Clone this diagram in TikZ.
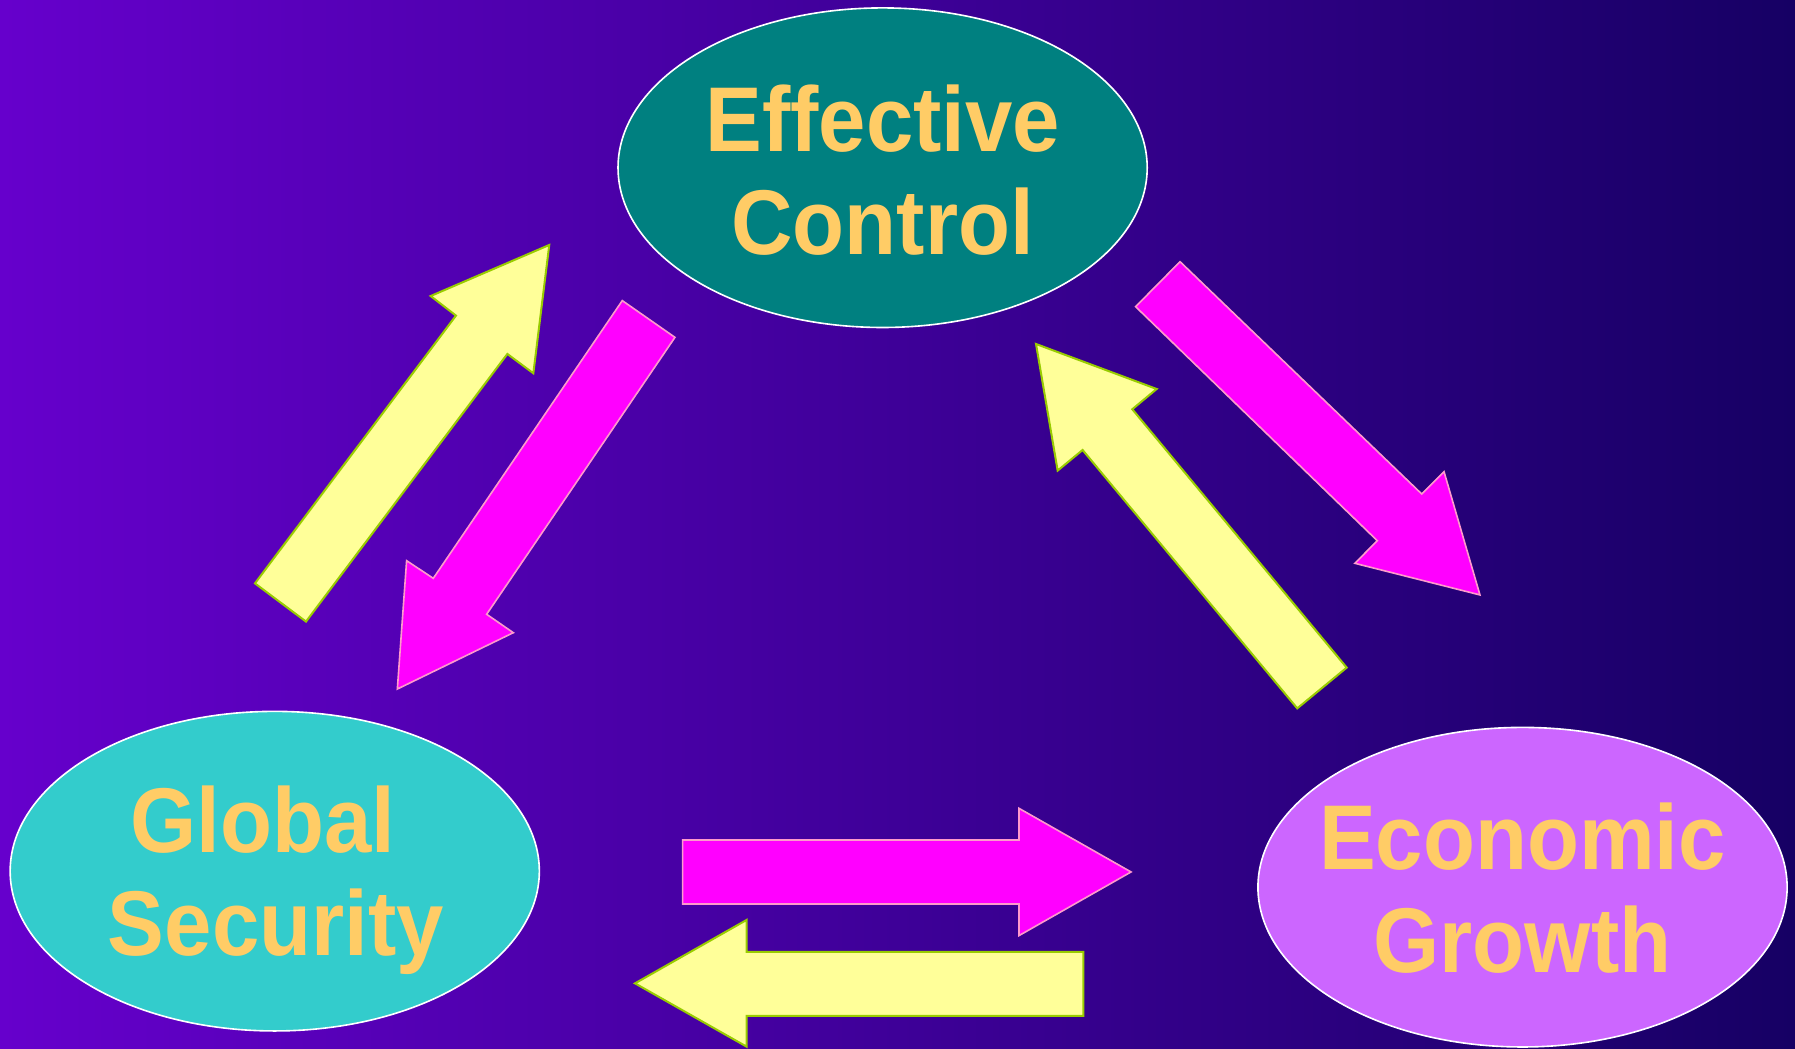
\documentclass[tikz,border=0pt]{standalone}
\usepackage{fontspec}
\setmainfont[FakeStretch=0.925]{Liberation Sans}
\usetikzlibrary{shapes.geometric}

\definecolor{bgleft}{RGB}{102,0,204}
\definecolor{bgright}{RGB}{22,0,100}
\definecolor{tealfill}{RGB}{0,128,128}
\definecolor{cyanfill}{RGB}{51,204,204}
\definecolor{lilacfill}{RGB}{204,102,255}
\definecolor{goldtext}{RGB}{255,204,102}
\definecolor{paleyellow}{RGB}{255,255,153}
\definecolor{yellowedge}{RGB}{153,204,0}
\definecolor{brightpink}{RGB}{255,0,255}
\definecolor{pinkedge}{RGB}{255,153,204}

\tikzset{
  bubble/.style={ellipse, draw=white, line width=0.4pt, minimum width=4.62cm,
    minimum height=2.79cm, inner sep=0pt},
  bubbletext/.style={text=goldtext, align=center, inner sep=0pt,
    font=\fontsize{22.85}{25.5}\selectfont\bfseries},
  yellowarrow/.style={fill=paleyellow, draw=yellowedge, line width=0.5pt},
  pinkarrow/.style={fill=brightpink, draw=pinkedge, line width=0.4pt}
}

\begin{document}
\begin{tikzpicture}[x=0.01cm, y=-0.01cm]

  %%%%%%%%%%%Background%%%%%%%%%%%%%%%%%%%%%%
  \shade[left color=bgleft, right color=bgright] (0,0) rectangle (1568,915.5);
  \useasboundingbox (0,0) rectangle (1568,915.5);

  %%%%%%%%%%%Arrows between control and security%%%%%%%%%%%
  \filldraw[yellowarrow] (222.7,509.6) -- (398.3,275.7) -- (376.2,258.6) -- (479.8,214)
    -- (465.9,326.1) -- (443.2,309.2) -- (267.3,543) -- cycle;
  \filldraw[pinkarrow] (543.6,262.6) -- (378.5,505.2) -- (355.2,489.8) -- (347.1,601.9)
    -- (448.4,552.7) -- (425.1,536.6) -- (589.6,294.7) -- cycle;

  %%%%%%%%%%%Arrows between control and growth%%%%%%%%%%%%%
  \filldraw[pinkarrow] (1030.8,228.6) -- (1241.9,431.5) -- (1261.4,412) -- (1292.8,519.7)
    -- (1183.6,492.1) -- (1203.1,472.3) -- (992,267.9) -- cycle;
  \filldraw[yellowarrow] (1176.4,583.2) -- (989.1,357.5) -- (1010.4,339.8) -- (905,300.5)
    -- (923.9,411.1) -- (945.7,393.1) -- (1133.2,618.8) -- cycle;

  %%%%%%%%%%%Arrows between security and growth%%%%%%%%%%%%
  \filldraw[pinkarrow] (596.3,733.8) -- (890.1,733.8) -- (890.1,706.1) -- (988,761.7)
    -- (890.1,817.3) -- (890.1,789.7) -- (596.3,789.7) -- cycle;
  \filldraw[yellowarrow] (946.3,831.6) -- (652.2,831.6) -- (652.2,803.6) -- (554.7,859)
    -- (652.2,914.3) -- (652.2,887.5) -- (946.3,887.5) -- cycle;

  %%%%%%%%%%%Three ellipses%%%%%%%%%%%%%%%%%%
  \node[bubble, fill=tealfill] (control) at (771,146.5) {};
  \node[bubble, fill=cyanfill] (security) at (240,761) {};
  \node[bubble, fill=lilacfill] (growth) at (1330,775) {};

  %%%%%%%%%%%Their texts%%%%%%%%%%%%%%%%%%%%%
  \node[bubbletext] (controltext) at (771,148.5) {Effective\\Control};
  \node[bubbletext] (securitytext) at (241,769) {Global\hspace*{0.28em}\\Security};
  \node[bubbletext] (growthtext) at (1330,776) {Economic\\Growth};
\end{tikzpicture}
\end{document}
